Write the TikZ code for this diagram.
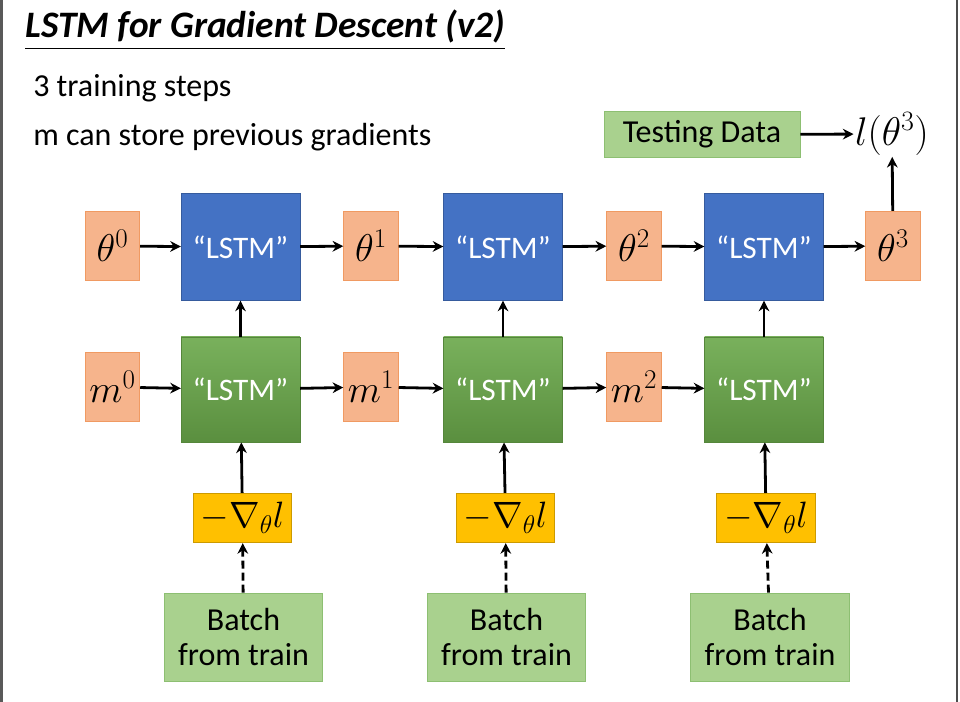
\documentclass[tikz,border=0pt]{standalone}
\usepackage{fix-cm}
\usepackage{fontspec}
\setmainfont{Carlito}
\usepackage{amsmath}
\usepackage{tikz}
\usetikzlibrary{arrows.meta, positioning}
\definecolor{parambox}{HTML}{F6B48C}
\definecolor{paramedge}{HTML}{F09A62}
\definecolor{lstmblue}{HTML}{4472C4}
\definecolor{lstmgreen}{HTML}{6AA84A}
\definecolor{gradgold}{HTML}{FFC000}
\definecolor{datagreen}{HTML}{A9D18E}
\definecolor{dataedge}{HTML}{8DBF72}

\tikzset{
  param/.style={draw=paramedge, fill=parambox, line width=0.6pt, minimum width=41pt, minimum height=52pt, inner sep=0pt, font=\fontsize{29}{32}\selectfont},
  blueunit/.style={draw=lstmblue!80!black, fill=lstmblue, line width=0.4pt, minimum width=89pt, minimum height=80pt, text=white, font=\fontsize{23.5}{26}\selectfont},
  greenunit/.style={draw=lstmgreen!80!black, top color=lstmgreen!90!white, bottom color=lstmgreen!85!black, line width=0.4pt, minimum width=89pt, minimum height=79pt, text=white, font=\fontsize{23.5}{26}\selectfont},
  gradbox/.style={draw=gradgold!80!black, fill=gradgold, line width=0.6pt, minimum width=74pt, minimum height=37pt, inner sep=0pt, font=\fontsize{27.5}{30}\selectfont},
  databox/.style={draw=dataedge, fill=datagreen, line width=0.6pt, inner sep=0pt, align=center, font=\fontsize{24}{26}\selectfont},
  flow/.style={->, line width=2.1pt},
}

\begin{document}
\begin{tikzpicture}[x=0.75pt, y=-0.75pt, >={Stealth[length=8pt,width=8pt]}]
    \useasboundingbox (0,0) rectangle (960,702);
    % screenshot frame
    \fill[black!65] (0,0) rectangle (3,702);
    \draw[black!70, line width=0.8pt] (957,0) -- (957,702);

    % title and notes
    \node[anchor=base west, inner sep=0pt] (title) at (25,38) {\fontsize{28}{32}\selectfont\bfseries\itshape\underline{LSTM for Gradient Descent (v2)}};
    \node[anchor=base west, inner sep=0pt] (noteA) at (33,97) {\fontsize{24}{28}\selectfont 3 training steps};
    \node[anchor=base west, inner sep=0pt] (noteB) at (33,146) {\fontsize{24}{28}\selectfont m can store previous gradients};

    % theta row
    \node[param] (th0) at (112.5,246) {$\theta^0$};
    \node[blueunit] (bl1) at (240.5,247) {``LSTM''};
    \node[param] (th1) at (371,246) {$\theta^1$};
    \node[blueunit] (bl2) at (503,247) {``LSTM''};
    \node[param] (th2) at (634,246) {$\theta^2$};
    \node[blueunit] (bl3) at (764,247) {``LSTM''};
    \node[param] (th3) at (893,246) {$\theta^3$};

    % m row
    \node[param] (m0) at (112.5,387) {$m^0$};
    \node[greenunit] (gr1) at (240.5,389.5) {``LSTM''};
    \node[param] (m1) at (371,387) {$m^1$};
    \node[greenunit] (gr2) at (503,389.5) {``LSTM''};
    \node[param] (m2) at (634,387) {$m^2$};
    \node[greenunit] (gr3) at (764,389.5) {``LSTM''};

    % gradients and batches
    \node[gradbox] (gd1) at (242.5,518) {$-\nabla_{\theta} l$};
    \node[gradbox] (gd2) at (505.5,518) {$-\nabla_{\theta} l$};
    \node[gradbox] (gd3) at (766,518) {$-\nabla_{\theta} l$};
    \node[databox, minimum width=119pt, minimum height=66pt] (bt1) at (243.5,637) {Batch\\from train};
    \node[databox, minimum width=119pt, minimum height=66pt] (bt2) at (506.5,637) {Batch\\from train};
    \node[databox, minimum width=119pt, minimum height=66pt] (bt3) at (770,637) {Batch\\from train};

    % testing
    \node[databox, minimum width=147pt, minimum height=35pt, font=\fontsize{24}{26}\selectfont] (test) at (702,134.5) {Testing Data};
    \node[inner sep=1pt, font=\fontsize{30}{34}\selectfont] (loss) at (892,134) {$l(\theta^3)$};

    \draw[flow] (th0) -- (bl1);
    \draw[flow] (bl1) -- (th1);
    \draw[flow] (th1) -- (bl2);
    \draw[flow] (bl2) -- (th2);
    \draw[flow] (th2) -- (bl3);
    \draw[flow] (bl3) -- (th3);
    \draw[flow] (m0) -- (gr1);
    \draw[flow] (gr1) -- (m1);
    \draw[flow] (m1) -- (gr2);
    \draw[flow] (gr2) -- (m2);
    \draw[flow] (m2) -- (gr3);
    \draw[flow] (gr1) -- (bl1);
    \draw[flow] (gr2) -- (bl2);
    \draw[flow] (gr3) -- (bl3);
    \draw[flow] (gd1) -- (gr1);
    \draw[flow] (gd2) -- (gr2);
    \draw[flow] (gd3) -- (gr3);
    \draw[flow, dash pattern=on 6pt off 3pt] (bt1) -- (gd1);
    \draw[flow, dash pattern=on 6pt off 3pt] (bt2) -- (gd2);
    \draw[flow, dash pattern=on 6pt off 3pt] (bt3) -- (gd3);
    \draw[flow] (test) -- (loss);
    \draw[flow] (th3) -- (loss);
\end{tikzpicture}
\end{document}
